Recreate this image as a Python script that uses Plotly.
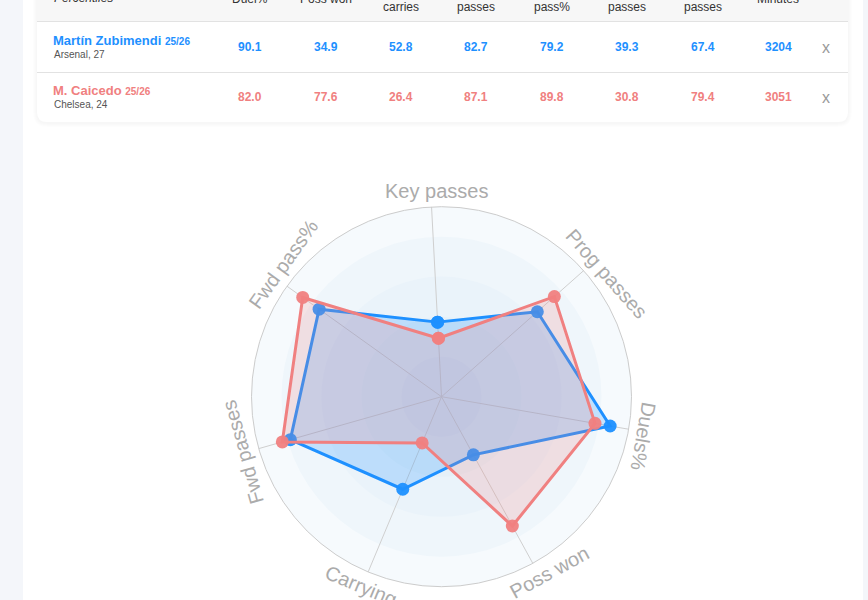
import math
import plotly.graph_objects as go

W, H = 868, 600

# ---------------- data ----------------
radar_axes = ["Key passes", "Prog passes", "Duels%", "Poss won", "Carrying", "Fwd passes", "Fwd pass%"]
table_headers = ["Duel%", "Poss won", "Prog<br>carries", "Fwd<br>passes", "Fwd<br>pass%",
                 "Key<br>passes", "Prog<br>passes", "Minutes"]
table_keys = ["Duels%", "Poss won", "Carrying", "Fwd passes", "Fwd pass%", "Key passes", "Prog passes"]
players = ["Martín Zubimendi", "M. Caicedo"]
seasons = ["25/26", "25/26"]
clubs = ["Arsenal, 27", "Chelsea, 24"]
zubimendi_vals = [90.1, 34.9, 52.8, 82.7, 79.2, 39.3, 67.4]
caicedo_vals = [82.0, 77.6, 26.4, 87.1, 89.8, 30.8, 79.4]
minutes = [3204, 3051]

# ---------------- style ----------------
BLUE = "#1e90ff"
RED = "#f08080"
FONT = "Arial, Liberation Sans, Helvetica, sans-serif"


def X(x):
    return x / W


def Y(y):
    return 1 - y / H


# radar geometry (px)
cx, cy, R = 441.5, 396.7, 190.0
ROT_OFF = -3.0
# per-label angular placement tweaks (deg) for the rotated axis names
LABEL_POS_ADJ = [1.6, 5.0, 1.3, -3.0, 0.2, 0.2, 4.4]
LABEL_R = 206

shapes = []
# white panel
shapes.append(dict(type="rect", xref="paper", yref="paper", x0=X(23), x1=X(863), y0=Y(605), y1=Y(-5),
                   fillcolor="white", line=dict(width=0), layer="below"))


def card_path(x0, x1, ytop, ybot, r):
    return (f"M {X(x0)},{Y(ytop)} L {X(x0)},{Y(ybot - r)} Q {X(x0)},{Y(ybot)} {X(x0 + r)},{Y(ybot)} "
            f"L {X(x1 - r)},{Y(ybot)} Q {X(x1)},{Y(ybot)} {X(x1)},{Y(ybot - r)} L {X(x1)},{Y(ytop)} Z")


for k in range(4, 0, -1):
    shapes.append(dict(type="path", xref="paper", yref="paper",
                       path=card_path(37 - k, 848 + k, -20, 122 + k + 1, 10 + k),
                       fillcolor="rgba(0,0,0,0.008)", line=dict(width=0), layer="below"))
shapes.append(dict(type="path", xref="paper", yref="paper", path=card_path(37, 848, -20, 122, 10),
                   fillcolor="white", line=dict(width=0), layer="below"))
# header background
shapes.append(dict(type="rect", xref="paper", yref="paper", x0=X(37), x1=X(848), y0=Y(21), y1=Y(-20),
                   fillcolor="#f7f7f7", line=dict(width=0), layer="below"))
for yl in (21.5, 72.5):
    shapes.append(dict(type="line", xref="paper", yref="paper", x0=X(37), x1=X(848), y0=Y(yl), y1=Y(yl),
                       line=dict(color="#e2e2e2", width=1.2), layer="below"))

# radar background bands (outermost first)
band_edges = [100, 84.2, 63.2, 42.1, 21.05]
band_colors = ["#f6fafd", "#eff6fb", "#eaf3fa", "#e5f0f8", "#e0ecf7"]
for frac, col in zip(band_edges, band_colors):
    rr = R * frac / 100.0
    shapes.append(dict(type="circle", xref="paper", yref="paper",
                       x0=X(cx - rr), x1=X(cx + rr), y0=Y(cy + rr), y1=Y(cy - rr),
                       fillcolor=col, line=dict(width=0), layer="below"))

annotations = []
# table header
annotations.append(dict(text="<i>Percentiles</i>", x=X(52), y=Y(-2), xref="paper", yref="paper",
                        xanchor="left", yanchor="middle", showarrow=False,
                        font=dict(family=FONT, size=12, color="#333")))
col_x = [250, 326, 401, 476, 552, 627, 703, 778]
for hx, htxt in zip(col_x, table_headers):
    annotations.append(dict(text=htxt, x=X(hx), y=Y(-1), xref="paper", yref="paper",
                            xanchor="center", yanchor="middle", showarrow=False,
                            font=dict(family=FONT, size=12, color="#333")))

rows = [(zubimendi_vals, minutes[0], BLUE, 40.5, 54.5, 46.7),
        (caicedo_vals, minutes[1], RED, 90.7, 104.3, 96.7)]
for i, (vals, mins, col, yname, yclub, yval) in enumerate(rows):
    annotations.append(dict(text=f"<b>{players[i]} <span style='font-size:10px'>{seasons[i]}</span></b>",
                            x=X(51), y=Y(yname), xref="paper", yref="paper", xanchor="left", yanchor="middle",
                            showarrow=False, font=dict(family=FONT, size=13, color=col)))
    annotations.append(dict(text=clubs[i], x=X(52), y=Y(yclub), xref="paper", yref="paper",
                            xanchor="left", yanchor="middle", showarrow=False,
                            font=dict(family=FONT, size=10, color="#555")))
    cells = [f"{v:.1f}" for v in vals] + [str(mins)]
    for hx, t in zip(col_x, cells):
        annotations.append(dict(text=f"<b>{t}</b>", x=X(hx), y=Y(yval), xref="paper", yref="paper",
                                xanchor="center", yanchor="middle", showarrow=False,
                                font=dict(family=FONT, size=12, color=col)))
    annotations.append(dict(text="x", x=X(826), y=Y(yval + 1), xref="paper", yref="paper",
                            xanchor="center", yanchor="middle", showarrow=False,
                            font=dict(family=FONT, size=16, color="#9a9a9a")))

# radar labels (tangential)
n = len(radar_axes)
for i, name in enumerate(radar_axes):
    base = i * 360.0 / n
    ang = base + ROT_OFF
    a = math.radians(ang + LABEL_POS_ADJ[i])
    lx = cx + LABEL_R * math.sin(a)
    ly = cy - LABEL_R * math.cos(a)
    if 120 < base < 240:
        ta = ang - 180
    elif base >= 240:
        ta = ang - 360
    else:
        ta = ang
    if i == 0:
        ta = 0
    annotations.append(dict(text=name, x=X(lx), y=Y(ly), xref="paper", yref="paper",
                            xanchor="center", yanchor="middle", showarrow=False, textangle=ta,
                            font=dict(family=FONT, size=20, color="#ababab")))


def radar_r(vals):
    return [vals[table_keys.index(a)] for a in radar_axes]


fig = go.Figure()
for vals, col, fillc in [(zubimendi_vals, BLUE, "rgba(30,144,255,0.22)"),
                         (caicedo_vals, RED, "rgba(240,128,128,0.20)")]:
    rv = radar_r(vals)
    fig.add_trace(go.Scatterpolar(
        r=rv + [rv[0]], theta=radar_axes + [radar_axes[0]],
        mode="lines+markers", fill="toself", fillcolor=fillc,
        line=dict(color=col, width=3), marker=dict(size=13, color=col, opacity=0.95),
        hoverinfo="skip", showlegend=False))

fig.update_layout(
    width=W, height=H, margin=dict(l=0, r=0, t=0, b=0),
    paper_bgcolor="#f4f6fa", plot_bgcolor="rgba(0,0,0,0)",
    showlegend=False,
    polar=dict(
        domain=dict(x=[X(cx - R), X(cx + R)], y=[Y(cy + R), Y(cy - R)]),
        bgcolor="rgba(0,0,0,0)",
        radialaxis=dict(range=[0, 100], visible=False),
        angularaxis=dict(rotation=90 - ROT_OFF, direction="clockwise", showticklabels=False, ticks="",
                         showgrid=True, gridcolor="#cfcfcf", gridwidth=1,
                         showline=True, linecolor="#cccccc", linewidth=1, layer="below traces"),
    ),
    shapes=shapes, annotations=annotations,
)

fig.write_html("out.html", config={"displayModeBar": False})
